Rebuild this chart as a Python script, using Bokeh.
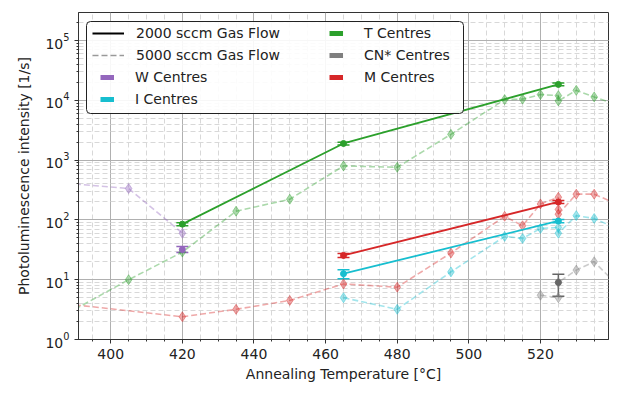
from bokeh.plotting import figure
from bokeh.models import (Range1d, Legend, LegendItem, Whisker, TeeHead, BoxAnnotation,
                          ColumnDataSource, SingleIntervalTicker, LogTicker)
from bokeh.embed import file_html
from bokeh.resources import INLINE

# ---------------- data ----------------
# 5000 sccm gas flow (dashed)
w5_x = [390, 405, 420]
w5_y = [400, 335, 60]
t5_x = [390, 405, 420, 435, 450, 465, 480, 495, 510, 515, 520, 525, 525, 530, 535, 540]
t5_y = [3.2, 10, 29, 140, 222, 800, 760, 2700, 10300, 10500, 12500, 12000, 9800, 14700, 11400, 9000]
m5_x = [390, 420, 435, 450, 465, 480, 495, 510, 515, 520, 525, 525, 525, 530, 535, 540]
m5_y = [3.8, 2.4, 3.2, 4.5, 8.5, 7.5, 28, 115, 80, 185, 240, 150, 125, 270, 270, 200]
i5_x = [465, 480, 495, 510, 515, 520, 525, 525, 530, 535, 540]
i5_y = [5.0, 3.2, 13.5, 53, 49, 72, 75, 60, 118, 106, 78]
c5_x = [520, 525, 525, 530, 535, 540]
c5_y = [5.5, 5.0, 9.0, 14.5, 20, 10]

# 2000 sccm gas flow (solid, with error bars)
w2_x = [420]
w2_y = [32]
w2_lo = [28.5]
w2_hi = [36]
t2_x = [420, 465, 525]
t2_y = [85, 1900, 18500]
t2_lo = [80, 1800, 17500]
t2_hi = [90, 2000, 19500]
m2_x = [465, 525]
m2_y = [25.5, 200]
m2_lo = [23.5, 188]
m2_hi = [27.5, 212]
i2_x = [465, 525]
i2_y = [12.6, 96]
i2_lo = [10.4, 90]
i2_hi = [14.7, 102]
c2_x = [525]
c2_y = [9.0]
c2_lo = [5.3]
c2_hi = [12.3]

x_ticks_interval = 20
legend_lines = ["2000 sccm Gas Flow", "5000 sccm Gas Flow"]
legend_col1 = ["W Centres", "I Centres"]
legend_col2 = ["T Centres", "CN* Centres", "M Centres"]

# ---------------- colours ----------------
PURPLE = "#9467bd"
CYAN = "#17becf"
GREEN = "#2ca02c"
GRAY = "#7f7f7f"
RED = "#d62728"
FONT = "DejaVu Sans"
centre_colors = {"W Centres": PURPLE, "I Centres": CYAN, "T Centres": GREEN,
                 "CN* Centres": GRAY, "M Centres": RED}

p = figure(width=634, height=385, output_backend="svg", toolbar_location=None,
           y_axis_type="log",
           x_range=Range1d(391, 539), y_range=Range1d(1, 2.95e5),
           min_border_left=78, min_border_right=26, min_border_top=12, min_border_bottom=46)

p.background_fill_color = "white"
p.border_fill_color = "white"
p.outline_line_color = "#333333"
p.outline_line_width = 1

# axes
p.xaxis.ticker = SingleIntervalTicker(interval=x_ticks_interval, num_minor_ticks=4)
p.yaxis.ticker = LogTicker(num_minor_ticks=10)
for ax in [p.xaxis[0], p.yaxis[0]]:
    ax.major_label_text_font = FONT
    ax.major_label_text_font_size = "14px"
    ax.major_label_text_color = "#222222"
    ax.axis_label_text_font = FONT
    ax.axis_label_text_font_size = "14px"
    ax.axis_label_text_font_style = "normal"
    ax.axis_label_text_color = "#222222"
    ax.axis_line_color = "#333333"
    ax.major_tick_line_color = "#333333"
    ax.minor_tick_line_color = "#333333"
    ax.major_tick_out = 4
    ax.major_tick_in = 0
    ax.minor_tick_out = 2
    ax.minor_tick_in = 0
p.xaxis.axis_label = "Annealing Temperature [°C]"
p.yaxis.axis_label = "Photoluminescence intensity [1/s]"
p.xaxis.axis_label_standoff = 4
p.yaxis.axis_label_standoff = 10

# grids
for g in [p.xgrid[0], p.ygrid[0]]:
    g.grid_line_color = "#b0b0b0"
    g.grid_line_width = 1
    g.minor_grid_line_color = "#d8d8d8"
    g.minor_grid_line_dash = "5 3"
    g.minor_grid_line_width = 1

# dashed series (5000 sccm)
dashed = [(w5_x, w5_y, PURPLE), (t5_x, t5_y, GREEN), (m5_x, m5_y, RED),
          (i5_x, i5_y, CYAN), (c5_x, c5_y, GRAY)]
for xs, ys, col in dashed:
    p.line(xs, ys, line_color=col, line_width=1.6, line_dash="6 3", line_alpha=0.4)
    p.scatter(xs, ys, marker="diamond", size=10, fill_color=col, line_color=col,
              fill_alpha=0.4, line_alpha=0.4)

# solid series (2000 sccm)
solid = [(w2_x, w2_y, w2_lo, w2_hi, PURPLE), (t2_x, t2_y, t2_lo, t2_hi, GREEN),
         (m2_x, m2_y, m2_lo, m2_hi, RED), (i2_x, i2_y, i2_lo, i2_hi, CYAN),
         (c2_x, c2_y, c2_lo, c2_hi, "#666666")]
for xs, ys, lo, hi, col in solid:
    src = ColumnDataSource(dict(x=xs, y=ys, lo=lo, hi=hi))
    if len(xs) > 1:
        p.line("x", "y", source=src, line_color=col, line_width=1.8)
    p.scatter("x", "y", source=src, marker="circle", size=6, fill_color=col, line_color=col)
    p.add_layout(Whisker(base="x", upper="hi", lower="lo", source=src, dimension="height",
                         line_color=col, line_width=1.5,
                         upper_head=TeeHead(size=12, line_color=col, line_width=1.5),
                         lower_head=TeeHead(size=12, line_color=col, line_width=1.5)))

# legend proxies (a single point far outside the visible range)
OFF_X = [0]
OFF_Y = [1e-3]
r_solid = p.line(OFF_X, OFF_Y, line_color="black", line_width=1.8)
r_dash = p.line(OFF_X, OFF_Y, line_color="black", line_alpha=0.4, line_width=1.6, line_dash="6 3")
proxies = {}
for name, col in centre_colors.items():
    proxies[name] = p.line(OFF_X, OFF_Y, line_color=col, line_width=5)

# legend frame
p.add_layout(BoxAnnotation(left=8, right=385, top=318, bottom=226,
                           left_units="screen", right_units="screen",
                           top_units="screen", bottom_units="screen",
                           fill_color="white", fill_alpha=0.9,
                           line_color="#222222", line_width=1, line_alpha=1,
                           border_radius=4))

common = dict(padding=0, spacing=4, label_height=18, glyph_height=18, margin=0,
              label_text_font=FONT, label_text_font_size="14px",
              label_text_color="#222222",
              border_line_alpha=0, background_fill_alpha=0)

legA = Legend(items=[LegendItem(label=legend_lines[0], renderers=[r_solid]),
                     LegendItem(label=legend_lines[1], renderers=[r_dash])],
              location=(14, 275), glyph_width=32, label_standoff=12, **common)
legB = Legend(items=[LegendItem(label=n, renderers=[proxies[n]]) for n in legend_col1],
              location=(22, 231), glyph_width=14, label_standoff=21, **common)
legC = Legend(items=[LegendItem(label=n, renderers=[proxies[n]]) for n in legend_col2],
              location=(251, 253), glyph_width=14, label_standoff=21, **common)
for lg in (legA, legB, legC):
    p.add_layout(lg, "center")

open("out.html", "w").write(file_html(p, INLINE))
